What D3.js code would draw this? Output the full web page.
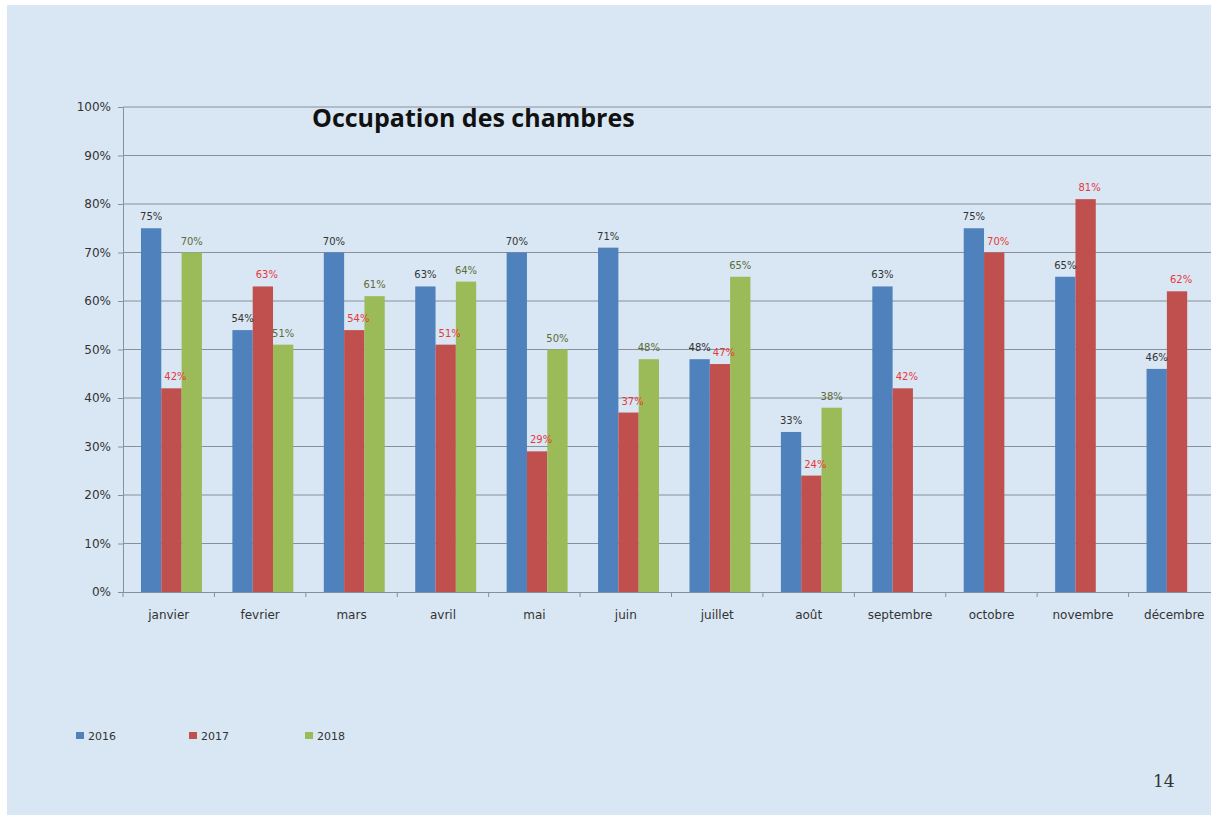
<!DOCTYPE html>
<html>
<head>
<meta charset="utf-8">
<script src="https://cdn.jsdelivr.net/npm/d3@7"></script>
<style>
  body { margin: 0; background: #ffffff; }
  text { font-family: "DejaVu Sans", sans-serif; }
</style>
</head>
<body>
<div id="chartDiv"></div>
<script>
// donnees
const months = ['janvier', 'fevrier', 'mars', 'avril', 'mai', 'juin', 'juillet', 'août', 'septembre', 'octobre', 'novembre', 'décembre'];
const years = ['2016', '2017', '2018'];
const values2016 = [75, 54, 70, 63, 70, 71, 48, 33, 63, 75, 65, 46];
const values2017 = [42, 63, 54, 51, 29, 37, 47, 24, 42, 70, 81, 62];
const values2018 = [70, 51, 61, 64, 50, 48, 65, 38, null, null, null, null];
const yTicks = [0, 10, 20, 30, 40, 50, 60, 70, 80, 90, 100];

const width = 1211, height = 820;
const margin = {top: 107, right: -9, bottom: 228, left: 123};

const colors = {'2016': '#4f81bd', '2017': '#c0504d', '2018': '#9bbb59'};
const labelColors = {'2016': '#333333', '2017': '#e8383a', '2018': '#5d6b34'};

let svg = d3.select('#chartDiv').append('svg')
    .attr('width', width)
    .attr('height', height);

// fond de la diapo
svg.append('rect')
    .attr('x', 7).attr('y', 5)
    .attr('width', width - 7).attr('height', 810)
    .style('fill', '#d9e7f4');

let x0 = d3.scaleBand()
    .domain(months)
    .range([margin.left, width - margin.right])
    .paddingInner(0)
    .paddingOuter(0);

let x1 = d3.scaleBand()
    .domain(years)
    .range([0, x0.bandwidth()])
    .paddingInner(0)
    .paddingOuter(0.75)
    .align(0.59);

let y = d3.scaleLinear()
    .domain([0, 100])
    .range([height - margin.bottom, margin.top]);

// grille
svg.append('g')
    .selectAll('line')
    .data(yTicks.filter(d => d > 0))
    .enter()
    .append('line')
    .attr('x1', margin.left)
    .attr('x2', width)
    .attr('y1', d => y(d))
    .attr('y2', d => y(d))
    .style('stroke', '#8a9099')
    .style('stroke-width', 1);

let yAxis = d3.axisLeft(y)
    .tickValues(yTicks)
    .tickSize(5)
    .tickFormat(d => d + '%');

svg.append('g')
    .attr('transform', `translate(${margin.left},0)`)
    .call(yAxis)
    .call(g => g.select('.domain').style('stroke', '#8a9099'))
    .call(g => g.selectAll('.tick line').style('stroke', '#8a9099'))
    .call(g => g.selectAll('.tick text')
        .attr('x', -12)
        .style('font-size', '12px')
        .style('fill', '#333'));

let xAxis = d3.axisBottom(x0)
    .tickSize(0);

let xg = svg.append('g')
    .attr('transform', `translate(0,${y(0)})`)
    .call(xAxis);
xg.select('.domain').style('stroke', '#8a9099');
xg.selectAll('.tick text')
    .attr('dy', '2em')
    .style('font-size', '12px')
    .style('fill', '#333');

// petits traits entre les mois
svg.append('g')
    .selectAll('line')
    .data(months)
    .enter()
    .append('line')
    .attr('x1', d => x0(d))
    .attr('x2', d => x0(d))
    .attr('y1', y(0))
    .attr('y2', y(0) + 5)
    .style('stroke', '#8a9099');

const series = {'2016': values2016, '2017': values2017, '2018': values2018};

let rows = [];
months.forEach((m, i) => {
    years.forEach(yr => {
        if (series[yr][i] != null) rows.push({month: m, year: yr, value: series[yr][i]});
    });
});

svg.append('g')
    .selectAll('rect.bar')
    .data(rows)
    .enter()
    .append('rect')
    .attr('class', 'bar')
    .attr('x', d => x0(d.month) + x1(d.year))
    .attr('width', x1.bandwidth())
    .attr('y', d => y(d.value))
    .attr('height', d => y(0) - y(d.value))
    .style('fill', d => colors[d.year]);

svg.append('g')
    .selectAll('text.valueLabel')
    .data(rows)
    .enter()
    .append('text')
    .attr('class', 'valueLabel')
    .attr('x', d => x0(d.month) + x1(d.year) + x1.bandwidth() / 2 + (d.year === '2017' ? 4 : 0))
    .attr('y', d => y(d.value) - 8)
    .style('text-anchor', 'middle')
    .style('font-size', '10px')
    .style('fill', d => labelColors[d.year])
    .text(d => d.value + '%');

// titre
svg.append('text')
    .attr('x', 312)
    .attr('y', 127)
    .style('font-family', '"Open Sans", sans-serif')
    .style('font-size', '25px')
    .style('font-weight', 'bold')
    .style('fill', '#111')
    .text('Occupation des chambres');

// legende
const legendX = [76, 189, 305];
let legend = svg.append('g')
    .selectAll('g')
    .data(years)
    .enter()
    .append('g')
    .attr('transform', (d, i) => `translate(${legendX[i]},736)`);

legend.append('rect')
    .attr('x', 0).attr('y', -4)
    .attr('width', 8).attr('height', 7)
    .style('fill', d => colors[d]);

legend.append('text')
    .attr('x', 12)
    .attr('y', 4)
    .style('font-size', '11px')
    .style('fill', '#333')
    .text(d => d);

// numero de page
svg.append('text')
    .attr('x', 1153)
    .attr('y', 787)
    .style('font-family', '"DejaVu Serif", serif')
    .style('font-size', '17px')
    .style('fill', '#333')
    .text('14');
</script>
</body>
</html>
